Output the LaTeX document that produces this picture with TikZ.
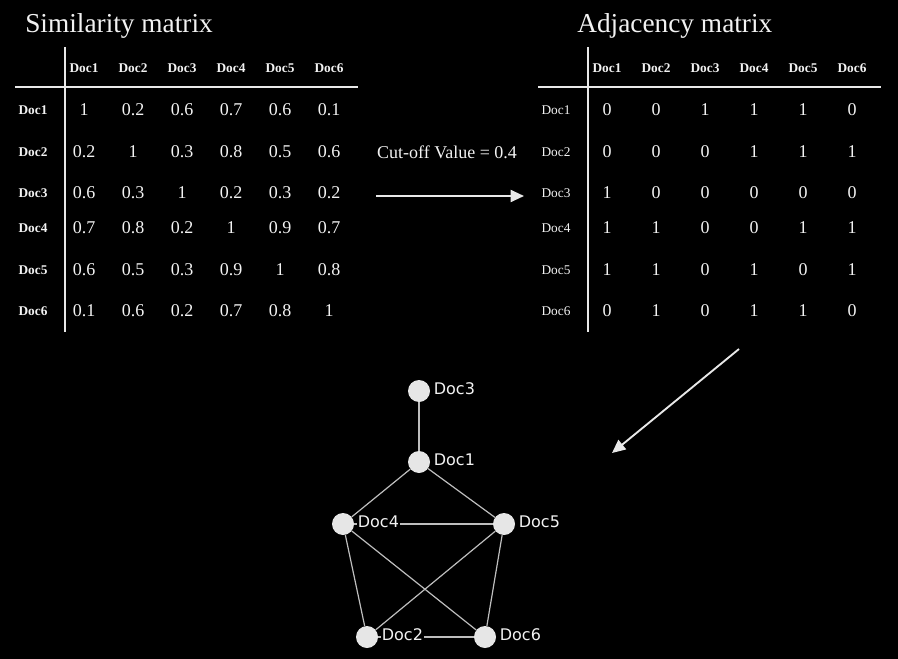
\documentclass[tikz,border=0pt]{standalone}
\usepackage{fontspec}
\setmainfont{Liberation Serif}
\newfontfamily\graphfont{DejaVu Sans}
\usetikzlibrary{positioning,arrows.meta}
\definecolor{txt}{HTML}{F2F2F2}
\definecolor{rulecol}{HTML}{E8E8E8}
\definecolor{edgecol}{HTML}{BEBEBE}
\definecolor{nodecol}{HTML}{E6E6E6}
\begin{document}
\begin{tikzpicture}[x=0.75pt,y=-0.75pt,
    every node/.style={text=txt},
    title/.style={font=\fontsize{20.5}{24}\selectfont, anchor=west, inner sep=0pt},
    head/.style={font=\fontsize{10}{12}\selectfont\bfseries},
    rowlbl/.style={font=\fontsize{10}{12}\selectfont},
    val/.style={font=\fontsize{13.5}{16}\selectfont},
    gridline/.style={draw=rulecol, line width=1.5pt},
    bigarrow/.style={draw=rulecol, line width=1.4pt, -{Triangle[length=10pt,width=9pt]}},
    doc/.style={circle, fill=nodecol, minimum size=16.5pt, inner sep=0pt},
    link/.style={draw=edgecol, line width=0.9pt},
    lbl/.style={font=\graphfont\fontsize{12}{14}\selectfont, fill=black, inner sep=1pt, anchor=west}]
    \useasboundingbox (0,0) rectangle (898,659);
    \fill[black] (0,0) rectangle (898,659);

    % similarity matrix
    \node(simtitle) [title] at (25,26) {Similarity matrix};
    \draw[gridline] (65,47) -- (65,332);
    \draw[gridline] (15,87) -- (358,87);
    \foreach \c in {1,...,6}
        \node(sh\c) [head] at (84+49*\c-49,68) {Doc\c};
    \foreach \r/\y/\vals in {1/110/{1,0.2,0.6,0.7,0.6,0.1},
                             2/152/{0.2,1,0.3,0.8,0.5,0.6},
                             3/193/{0.6,0.3,1,0.2,0.3,0.2},
                             4/228/{0.7,0.8,0.2,1,0.9,0.7},
                             5/270/{0.6,0.5,0.3,0.9,1,0.8},
                             6/311/{0.1,0.6,0.2,0.7,0.8,1}} {
        \node(sr\r) [head] at (33,\y) {Doc\r};
        \foreach \v [count=\c] in \vals
            \node(s\r\c) [val] at (84+49*\c-49,\y) {\v};
    }

    % adjacency matrix
    \node(adjtitle) [title] at (577,26) {Adjacency matrix};
    \draw[gridline] (588,47) -- (588,332);
    \draw[gridline] (538,87) -- (881,87);
    \foreach \c in {1,...,6}
        \node(ah\c) [head] at (607+49*\c-49,68) {Doc\c};
    \foreach \r/\y/\vals in {1/110/{0,0,1,1,1,0},
                             2/152/{0,0,0,1,1,1},
                             3/193/{1,0,0,0,0,0},
                             4/228/{1,1,0,0,1,1},
                             5/270/{1,1,0,1,0,1},
                             6/311/{0,1,0,1,1,0}} {
        \node(ar\r) [rowlbl] at (556,\y) {Doc\r};
        \foreach \v [count=\c] in \vals
            \node(a\r\c) [val] at (607+49*\c-49,\y) {\v};
    }

    % cut-off
    \node(cutoff) [val] at (447,152) {Cut-off Value = 0.4};
    \coordinate(cutstart) at (376,196);
    \coordinate(cutend) at (524,196);
    \draw[bigarrow] (cutstart) -- (cutend);
    \coordinate(graphstart) at (739,349);
    \coordinate(graphend) at (612,453);
    \draw[bigarrow] (graphstart) -- (graphend);

    % graph
    \node(d3) [doc] at (419,391) {};
    \node(d1) [doc] at (419,462) {};
    \node(d4) [doc] at (343,524) {};
    \node(d5) [doc] at (504,524) {};
    \node(d2) [doc] at (367,637) {};
    \node(d6) [doc] at (485,637) {};

    \draw[link] (d3) -- (d1);
    \draw[link] (d1) -- (d4);
    \draw[link] (d1) -- (d5);
    \draw[link] (d4) -- (d5);
    \draw[link] (d4) -- (d2);
    \draw[link] (d4) -- (d6);
    \draw[link] (d5) -- (d2);
    \draw[link] (d5) -- (d6);
    \draw[link] (d2) -- (d6);

    \foreach \n in {1,...,6}
        \node(l\n) [lbl, right=1.5pt of d\n, yshift=1.5pt] {Doc\n};
\end{tikzpicture}
\end{document}
